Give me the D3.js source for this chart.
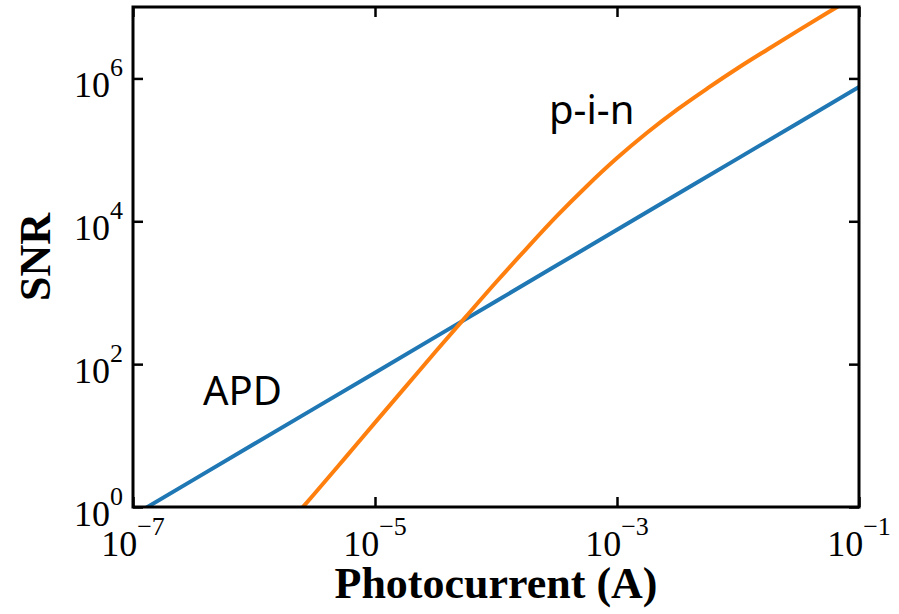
<!DOCTYPE html>
<html>
<head>
<meta charset="utf-8">
<script src="https://cdn.jsdelivr.net/npm/d3@7"></script>
<style>
  body { margin: 0; background: #fff; }
  svg { display: block; }
</style>
</head>
<body>
<div id="canvas"></div>
<script>
// photocurrent (A) and SNR
var apdCurrent = [1e-7, 1e-6, 1e-5, 1e-4, 1e-3, 1e-2, 1e-1];
var apdSnr     = [0.76, 7.6, 76, 760, 7600, 7.6e4, 7.6e5];

var pinCurrent = [2.5e-6, 3.16e-6, 5.62e-6, 1e-5, 1.78e-5, 3.16e-5, 5.62e-5, 1e-4,
                  1.78e-4, 3.16e-4, 5.62e-4, 1e-3, 1.78e-3, 3.16e-3, 5.62e-3, 1e-2,
                  1.78e-2, 3.16e-2, 5.62e-2, 1e-1];
var pinSnr     = [0.97, 1.53, 4.8, 15.2, 47.7, 149, 459, 1400,
                  4120, 11700, 31000, 76700, 1.75e5, 3.69e5, 7.3e5, 1.4e6,
                  2.58e6, 4.7e6, 8.5e6, 1.52e7];

var xTicks = [1e-7, 1e-5, 1e-3, 1e-1];
var xTickExp = ["\u22127", "\u22125", "\u22123", "\u22121"];
var yTicks = [1, 1e2, 1e4, 1e6];
var yTickExp = ["0", "2", "4", "6"];

var width = 899, height = 614;
var margin = {left: 133, right: 40, top: 7, bottom: 107};

var svg = d3.select("#canvas")
  .append("svg")
  .attr("width", width)
  .attr("height", height);

var x = d3.scaleLog()
  .domain([1e-7, 1e-1])
  .range([margin.left, width - margin.right]);

var y = d3.scaleLog()
  .domain([1, 1e7])
  .range([height - margin.bottom, margin.top]);

svg.append("clipPath")
  .attr("id", "plotclip")
  .append("rect")
  .attr("x", margin.left)
  .attr("y", margin.top)
  .attr("width", width - margin.left - margin.right)
  .attr("height", height - margin.top - margin.bottom);

function series(xs, ys) {
  return xs.map(function(v, i) { return [v, ys[i]]; });
}

var line = d3.line()
  .x(function(d) { return x(d[0]); })
  .y(function(d) { return y(d[1]); })
  .curve(d3.curveMonotoneX);

var lines = svg.append("g").attr("clip-path", "url(#plotclip)");

lines.append("path")
  .datum(series(apdCurrent, apdSnr))
  .attr("d", line)
  .attr("fill", "none")
  .attr("stroke", "#1f77b4")
  .attr("stroke-width", 4);

lines.append("path")
  .datum(series(pinCurrent, pinSnr))
  .attr("d", line)
  .attr("fill", "none")
  .attr("stroke", "#ff7f0e")
  .attr("stroke-width", 4);

// axes: ticks point inward on all four sides
var tickLen = 10;
var fmt = function() { return ""; };
var x0 = height - margin.bottom, xTop = margin.top;
var yL = margin.left, yR = width - margin.right;

function styleAxis(g) {
  g.select(".domain").remove();
  g.selectAll(".tick line").attr("stroke", "#000").attr("stroke-width", 2.5);
}

svg.append("g").attr("transform", "translate(0," + x0 + ")")
  .call(d3.axisBottom(x).tickValues(xTicks).tickSize(-tickLen).tickFormat(fmt))
  .call(styleAxis);
svg.append("g").attr("transform", "translate(0," + xTop + ")")
  .call(d3.axisTop(x).tickValues(xTicks).tickSize(-tickLen).tickFormat(fmt))
  .call(styleAxis);
svg.append("g").attr("transform", "translate(" + yL + ",0)")
  .call(d3.axisLeft(y).tickValues(yTicks).tickSize(-tickLen).tickFormat(fmt))
  .call(styleAxis);
svg.append("g").attr("transform", "translate(" + yR + ",0)")
  .call(d3.axisRight(y).tickValues(yTicks).tickSize(-tickLen).tickFormat(fmt))
  .call(styleAxis);

svg.append("rect")
  .attr("x", yL)
  .attr("y", xTop)
  .attr("width", yR - yL)
  .attr("height", x0 - xTop)
  .attr("fill", "none")
  .attr("stroke", "#000")
  .attr("stroke-width", 3);

var serif = "'Liberation Serif', 'Times New Roman', serif";

// tick labels, 10 with a superscript
xTicks.forEach(function(t, i) {
  var txt = svg.append("text")
    .attr("x", x(t))
    .attr("y", x0 + 49)
    .attr("text-anchor", "middle")
    .attr("font-family", serif)
    .attr("font-size", 36);
  txt.append("tspan").text("10");
  txt.append("tspan").attr("dy", -21).attr("font-size", 26).text(xTickExp[i]);
});

yTicks.forEach(function(t, i) {
  var txt = svg.append("text")
    .attr("x", yL - 10)
    .attr("y", y(t) + 19)
    .attr("text-anchor", "end")
    .attr("font-family", serif)
    .attr("font-size", 36);
  txt.append("tspan").text("10");
  txt.append("tspan").attr("dy", -21).attr("font-size", 26).text(yTickExp[i]);
});

// axis titles
svg.append("text")
  .attr("x", (yL + yR) / 2)
  .attr("y", 598)
  .attr("text-anchor", "middle")
  .attr("font-family", serif)
  .attr("font-weight", "bold")
  .attr("font-size", 44)
  .text("Photocurrent (A)");

svg.append("text")
  .attr("transform", "translate(50," + (xTop + x0) / 2 + ") rotate(-90)")
  .attr("text-anchor", "middle")
  .attr("font-family", serif)
  .attr("font-weight", "bold")
  .attr("font-size", 44)
  .text("SNR");

// curve labels
var sans = "'Noto Sans', 'Open Sans', sans-serif";
svg.append("text")
  .attr("x", 203).attr("y", 405)
  .attr("font-family", sans).attr("font-size", 40)
  .text("APD");
svg.append("text")
  .attr("x", 549).attr("y", 124)
  .attr("font-family", sans).attr("font-size", 40)
  .text("p-i-n");
</script>
</body>
</html>
